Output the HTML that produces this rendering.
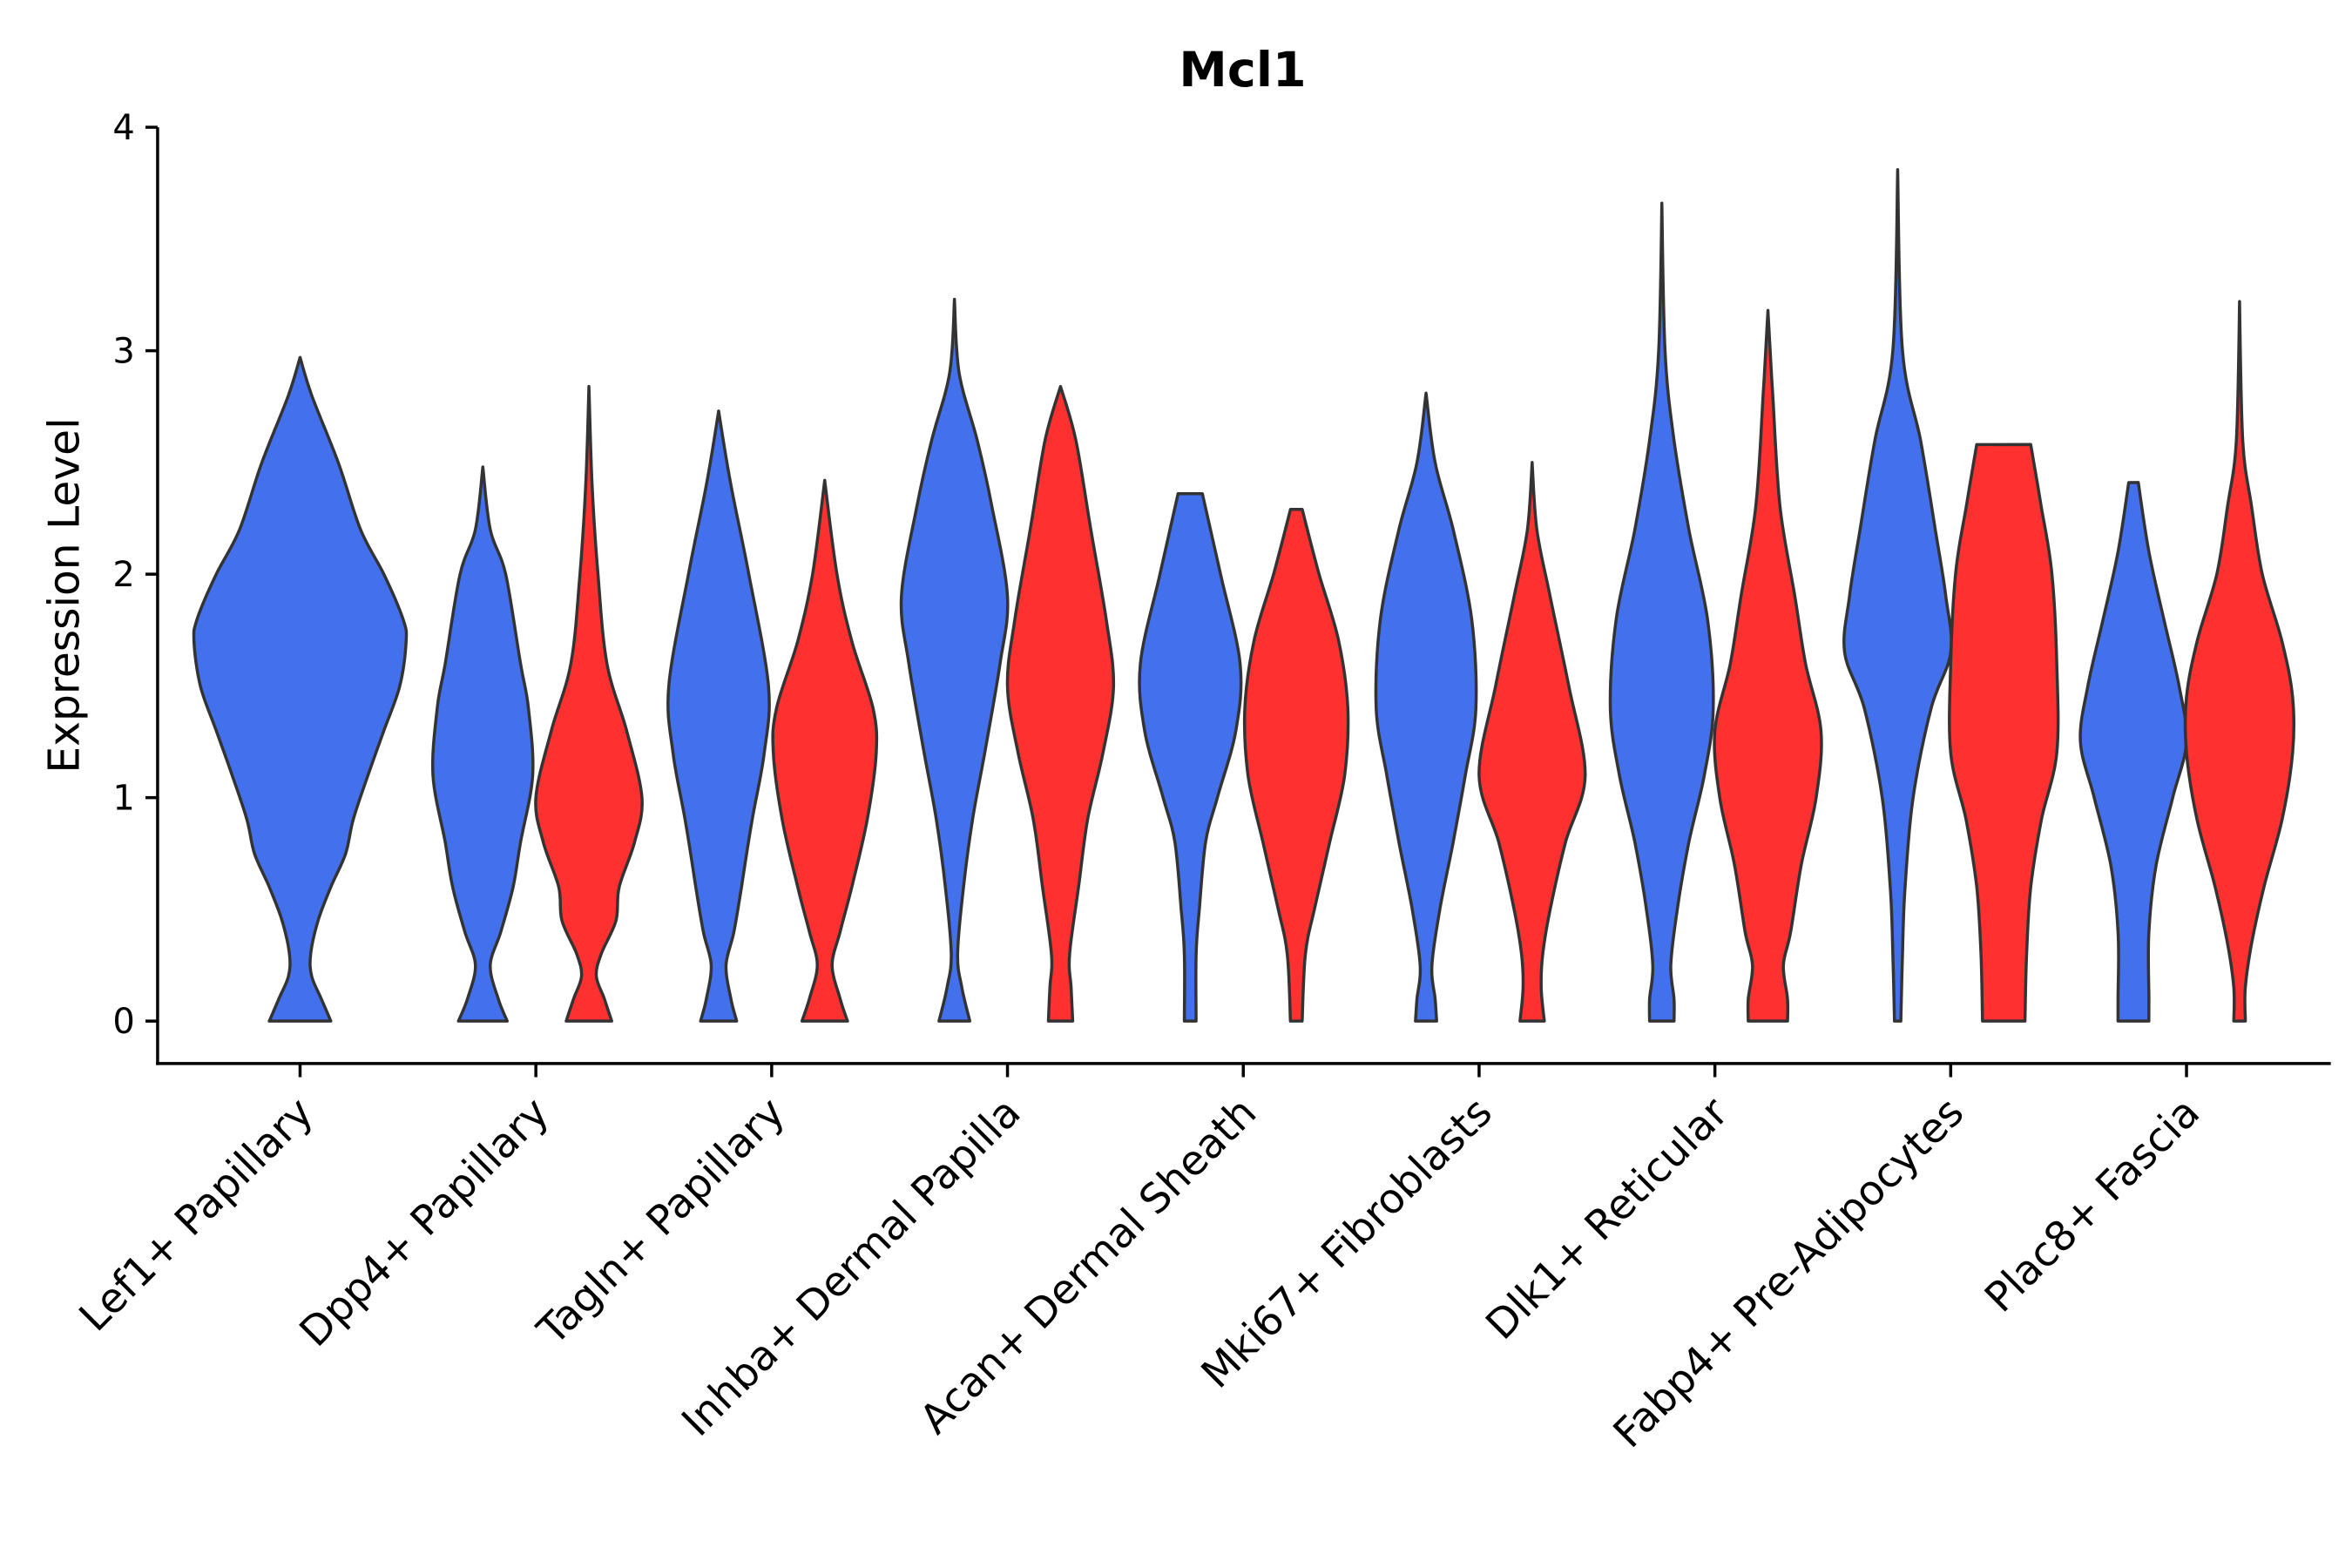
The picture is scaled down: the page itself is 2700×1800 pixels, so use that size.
<!DOCTYPE html>
<html><head><meta charset="utf-8"><style>
html,body{margin:0;padding:0;background:#fff}
svg{display:block}
text{font-family:"DejaVu Sans","Liberation Sans",sans-serif;fill:#000}
</style></head><body>
<svg id="chart" width="2700" height="1800" viewBox="0 0 1552 1035" preserveAspectRatio="none" xmlns="http://www.w3.org/2000/svg">
<rect width="1552" height="1035" fill="#fff"/>
<text x="820" y="57" font-size="32" font-weight="bold" text-anchor="middle">Mcl1</text>
<text transform="translate(52,393) rotate(-90)" font-size="28" text-anchor="middle">Expression Level</text>
<g id="violins"></g>
<g id="axes"></g>
</svg>
<script>
const categories = ["Lef1+ Papillary","Dpp4+ Papillary","Tagln+ Papillary","Inhba+ Dermal Papilla","Acan+ Dermal Sheath","Mki67+ Fibroblasts","Dlk1+ Reticular","Fabp4+ Pre-Adipocytes","Plac8+ Fascia"];
const yTicks = [0,1,2,3,4];
const violinCat = [0,1,1,2,2,3,3,4,4,5,5,6,6,7,7,8,8];
const violinGroup = ["full","a","b","a","b","a","b","a","b","a","b","a","b","a","b","a","b"];
const profiles = [
 [[2.97,0],[2.8,0.11],[2.5,0.36],[2.2,0.57],[2.0,0.79],[1.8,0.97],[1.7,1.0],[1.5,0.94],[1.3,0.79],[1.1,0.64],[0.9,0.5],[0.75,0.43],[0.6,0.29],[0.45,0.17],[0.3,0.1],[0.2,0.11],[0.1,0.2],[0,0.29]],
 [[2.48,0],[2.2,0.14],[2.0,0.43],[1.6,0.71],[1.4,0.86],[1.1,0.94],[0.8,0.71],[0.6,0.57],[0.4,0.34],[0.25,0.14],[0.1,0.29],[0,0.46]],
 [[2.84,0],[2.4,0.06],[2.0,0.17],[1.6,0.34],[1.3,0.71],[1.0,1.0],[0.8,0.86],[0.6,0.57],[0.45,0.51],[0.3,0.23],[0.2,0.14],[0.1,0.29],[0,0.43]],
 [[2.73,0],[2.4,0.23],[2.0,0.57],[1.5,0.94],[1.2,0.86],[0.9,0.63],[0.6,0.43],[0.4,0.29],[0.25,0.14],[0.1,0.23],[0,0.34]],
 [[2.42,0],[2.0,0.23],[1.7,0.51],[1.4,0.91],[1.2,0.97],[0.9,0.8],[0.6,0.51],[0.4,0.29],[0.25,0.14],[0.1,0.29],[0,0.43]],
 [[3.23,0],[2.9,0.09],[2.6,0.43],[2.3,0.71],[1.9,1.0],[1.6,0.86],[1.2,0.57],[0.9,0.34],[0.6,0.17],[0.3,0.06],[0.15,0.14],[0,0.29]],
 [[2.84,0],[2.6,0.29],[2.2,0.57],[1.8,0.86],[1.5,1.0],[1.2,0.8],[0.9,0.51],[0.6,0.34],[0.3,0.17],[0.15,0.2],[0,0.23]],
 [[2.36,0.23],[2.0,0.57],[1.6,0.94],[1.3,0.86],[1.0,0.51],[0.8,0.29],[0.5,0.17],[0.3,0.11],[0,0.11]],
 [[2.29,0.11],[2.0,0.43],[1.7,0.8],[1.4,0.97],[1.1,0.91],[0.8,0.63],[0.5,0.34],[0.3,0.17],[0,0.11]],
 [[2.81,0],[2.5,0.17],[2.2,0.51],[1.8,0.86],[1.4,0.94],[1.1,0.74],[0.8,0.51],[0.5,0.26],[0.25,0.11],[0.1,0.17],[0,0.2]],
 [[2.5,0],[2.2,0.09],[1.9,0.34],[1.5,0.69],[1.1,1.0],[0.8,0.63],[0.5,0.34],[0.3,0.2],[0.15,0.17],[0,0.23]],
 [[3.66,0],[3.0,0.06],[2.6,0.23],[2.2,0.51],[1.8,0.86],[1.4,0.97],[1.1,0.8],[0.8,0.51],[0.5,0.29],[0.25,0.17],[0.1,0.23],[0,0.23]],
 [[3.18,0],[2.8,0.09],[2.3,0.23],[1.9,0.51],[1.6,0.71],[1.3,1.0],[1.0,0.91],[0.7,0.63],[0.4,0.43],[0.25,0.29],[0.1,0.37],[0,0.37]],
 [[3.81,0],[3.0,0.09],[2.6,0.43],[2.2,0.71],[1.9,0.91],[1.65,1.0],[1.4,0.63],[1.0,0.29],[0.6,0.14],[0.3,0.09],[0,0.06]],
 [[2.58,0.51],[2.3,0.71],[2.0,0.91],[1.6,1.0],[1.2,1.0],[0.9,0.71],[0.6,0.51],[0.3,0.43],[0,0.4]],
 [[2.41,0.09],[2.1,0.29],[1.8,0.57],[1.5,0.86],[1.25,1.0],[1.0,0.74],[0.7,0.43],[0.4,0.29],[0.1,0.29],[0,0.29]],
 [[3.22,0],[2.6,0.06],[2.3,0.23],[2.0,0.43],[1.7,0.8],[1.45,1.0],[1.2,1.0],[0.9,0.8],[0.6,0.46],[0.35,0.23],[0.15,0.11],[0,0.11]]
];
const X0=104,X1=1538,Y0=702,YT=84;
function xCat(i){return 198+155.6*i;}
function yVal(v){return 674-v*147.5;}
const NS="http://www.w3.org/2000/svg";
function smooth(pts){
  let d="M"+pts[0][0]+","+pts[0][1];
  for(let i=0;i<pts.length-1;i++){
    const p0=pts[Math.max(i-1,0)],p1=pts[i],p2=pts[i+1],p3=pts[Math.min(i+2,pts.length-1)];
    const c1=[p1[0]+(p2[0]-p0[0])/6,p1[1]+(p2[1]-p0[1])/6];
    const c2=[p2[0]-(p3[0]-p1[0])/6,p2[1]-(p3[1]-p1[1])/6];
    d+=" C"+c1[0].toFixed(1)+","+c1[1].toFixed(1)+" "+c2[0].toFixed(1)+","+c2[1].toFixed(1)+" "+p2[0].toFixed(1)+","+p2[1].toFixed(1);
  }
  return d;
}
const vg=document.getElementById("violins");
profiles.forEach((prof,k)=>{
  const g=violinGroup[k];
  let cx=xCat(violinCat[k]), maxW=70;
  if(g==="a"){cx-=35;maxW=35;}
  if(g==="b"){cx+=35;maxW=35;}
  const left=prof.map(p=>[cx-p[1]*maxW,yVal(p[0])]);
  const right=prof.slice().reverse().map(p=>[cx+p[1]*maxW,yVal(p[0])]);
  let d=smooth(left);
  const r=smooth(right);
  d+=" L"+r.slice(1)+" Z";
  const path=document.createElementNS(NS,"path");
  path.setAttribute("d",d);
  path.setAttribute("fill",g==="b"?"#ff3030":"#4370ec");
  path.setAttribute("stroke","#333");
  path.setAttribute("stroke-width","2");
  path.setAttribute("stroke-linejoin","round");
  
  
  vg.appendChild(path);
});
const ag=document.getElementById("axes");
function line(x1,y1,x2,y2,name){
  const l=document.createElementNS(NS,"line");
  l.setAttribute("x1",x1);l.setAttribute("y1",y1);l.setAttribute("x2",x2);l.setAttribute("y2",y2);
  l.setAttribute("stroke","#000");l.setAttribute("stroke-width","2");
  
  
  ag.appendChild(l);
}
line(X0,YT,X0,Y0+1,"y-axis-line");
line(X0-1,Y0,X1,Y0,"x-axis-line");
yTicks.forEach(v=>{
  line(X0-8,yVal(v),X0,yVal(v),"y-tick");
  const t=document.createElementNS(NS,"text");
  t.setAttribute("x",X0-15);t.setAttribute("y",yVal(v)+8);
  t.setAttribute("font-size","23");t.setAttribute("text-anchor","end");
  t.textContent=v;
  
  
  ag.appendChild(t);
});
categories.forEach((c,i)=>{
  const x=xCat(i);
  line(x,Y0,x,Y0+9,"x-tick");
  const t=document.createElementNS(NS,"text");
  t.setAttribute("transform","translate("+(x+10)+",736) rotate(-45)");
  t.setAttribute("font-size","27");t.setAttribute("text-anchor","end");
  t.textContent=c;
  
  
  ag.appendChild(t);
});
</script>
</body></html>
